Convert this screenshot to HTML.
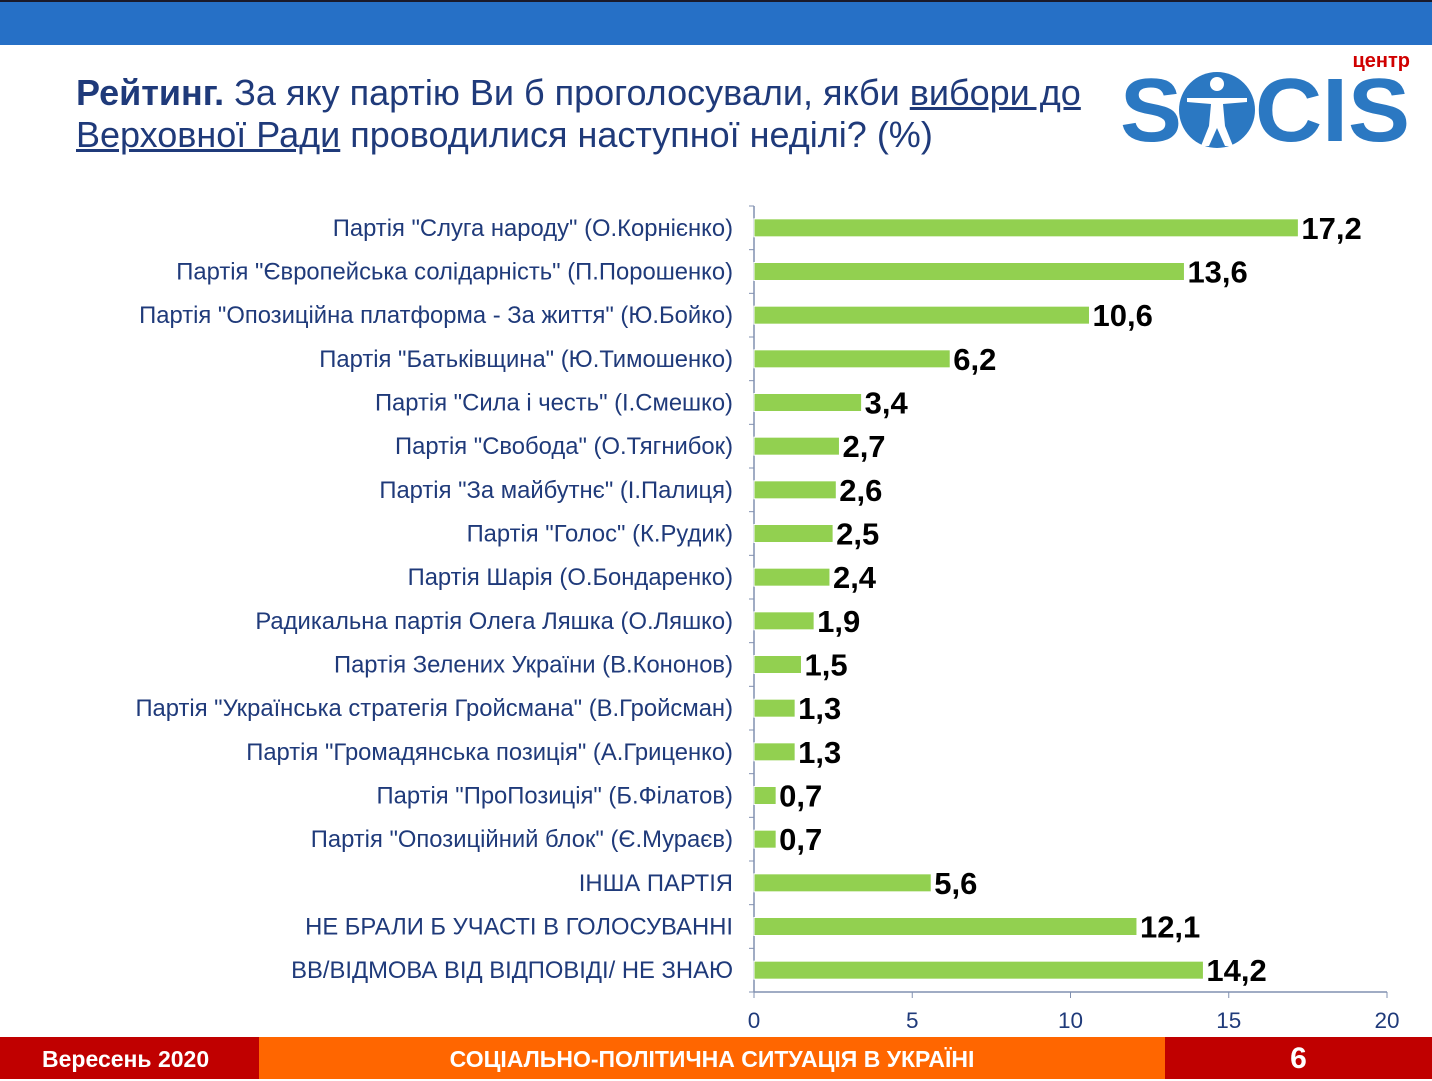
<!DOCTYPE html>
<html><head><meta charset="utf-8"><style>
body{margin:0;width:1432px;height:1079px;position:relative;background:#fff;font-family:"Liberation Sans",sans-serif;overflow:hidden}
.top{position:absolute;left:0;top:0;width:1432px;height:45px;background:#2670c6;border-top:2px solid #1a1a2a;box-sizing:border-box}
.title{position:absolute;left:76px;top:72px;font-size:36px;line-height:42px;color:#1f3a7a;width:1040px}
.title u{text-decoration:underline}
.foot{position:absolute;top:1037px;height:42px;color:#fff;font-weight:bold;font-size:23px;line-height:44px}
</style></head><body>
<div class="top"></div>
<div class="title"><b>Рейтинг.</b> За яку партію Ви б проголосували, якби <u>вибори до Верховної Ради</u> проводилися наступної неділі? (%)</div>
<svg style="position:absolute;left:1115px;top:48px" width="300" height="105">
<text x="295" y="19" text-anchor="end" font-family="Liberation Sans" font-weight="bold" font-size="20" fill="#d00000">центр</text>
<text x="5" y="93" font-family="Liberation Sans" font-weight="bold" font-size="90" fill="#2b78c2" textLength="62" lengthAdjust="spacingAndGlyphs">S</text>
<circle cx="102" cy="62" r="38" fill="#2b78c2"/>
<circle cx="102" cy="36" r="7" fill="#fff"/>
<path d="M72 50 L132 50 L132 54 L108 56 L110 78 L118 98 L110 98 L102 80 L94 98 L86 98 L94 78 L96 56 L72 54Z" fill="#fff"/>
<text x="140" y="93" font-family="Liberation Sans" font-weight="bold" font-size="90" fill="#2b78c2" textLength="155" lengthAdjust="spacingAndGlyphs">CIS</text>
</svg>
<svg id="chart" style="position:absolute;left:0;top:0" width="1432" height="1079"></svg>
<div class="foot" style="left:0;width:259px;background:#c00000;padding-left:42px;box-sizing:border-box">Вересень 2020</div>
<div class="foot" style="left:259px;width:906px;background:#ff6600;text-align:center">СОЦІАЛЬНО-ПОЛІТИЧНА СИТУАЦІЯ В УКРАЇНІ</div>
<div class="foot" style="left:1165px;width:267px;background:#c00000;text-align:center;font-size:30px">6</div>
<script>
const categories=['Партія "Слуга народу" (О.Корнієнко)','Партія "Європейська солідарність" (П.Порошенко)','Партія "Опозиційна платформа - За життя" (Ю.Бойко)','Партія "Батьківщина" (Ю.Тимошенко)','Партія "Сила і честь" (І.Смешко)','Партія "Свобода" (О.Тягнибок)','Партія "За майбутнє" (І.Палиця)','Партія "Голос" (К.Рудик)','Партія Шарія (О.Бондаренко)','Радикальна партія Олега Ляшка (О.Ляшко)','Партія Зелених України (В.Кононов)','Партія "Українська стратегія Гройсмана" (В.Гройсман)','Партія "Громадянська позиція" (А.Гриценко)','Партія "ПроПозиція" (Б.Філатов)','Партія "Опозиційний блок" (Є.Мураєв)','ІНША ПАРТІЯ','НЕ БРАЛИ Б УЧАСТІ В ГОЛОСУВАННІ','ВВ/ВІДМОВА ВІД ВІДПОВІДІ/ НЕ ЗНАЮ'];
const values=[17.2,13.6,10.6,6.2,3.4,2.7,2.6,2.5,2.4,1.9,1.5,1.3,1.3,0.7,0.7,5.6,12.1,14.2];
const ticks=[0,5,10,15,20];
const svg=document.getElementById('chart');const NS='http://www.w3.org/2000/svg';
const x0=754,x1=1387,yTop=206,yBot=992;
const X=v=>x0+(v-ticks[0])/(ticks[ticks.length-1]-ticks[0])*(x1-x0);
const band=(yBot-yTop)/categories.length;
const Y=i=>yTop+band*(i+0.5);
function mk(t,a){const e=document.createElementNS(NS,t);for(const k in a)e.setAttribute(k,a[k]);svg.appendChild(e);return e;}
let ax=mk('line',{x1:x0,y1:yTop,x2:x0,y2:yBot,stroke:'#8090b0','stroke-width':1.5});


let xa=mk('line',{x1:x0,y1:yBot,x2:x1,y2:yBot,stroke:'#8090b0','stroke-width':1.5});


for(let i=0;i<=categories.length;i++){mk('line',{x1:x0-5,x2:x0,y1:yTop+band*i,y2:yTop+band*i,stroke:'#8090b0'});}
ticks.forEach(t=>{mk('line',{x1:X(t),x2:X(t),y1:yBot,y2:yBot+6,stroke:'#8090b0'});
const tx=mk('text',{x:X(t),y:1028,'text-anchor':'middle','font-size':22.5,fill:'#1f3a7a','font-family':'Liberation Sans'});tx.textContent=t;

});
categories.forEach((c,i)=>{const y=Y(i);
const l=mk('text',{x:733,y:y+8,'text-anchor':'end','font-size':23.8,fill:'#1f3a7a','font-family':'Liberation Sans'});l.textContent=c;


const b=mk('rect',{x:x0,y:y-9,width:X(values[i])-x0,height:18,fill:'#92d050',stroke:'#fff','stroke-width':1});


const v=mk('text',{x:X(values[i])+3,y:y+11,'font-size':31,'font-weight':'bold',fill:'#000','font-family':'Liberation Sans'});v.textContent=String(values[i]).replace('.',',');

});
</script>
</body></html>
